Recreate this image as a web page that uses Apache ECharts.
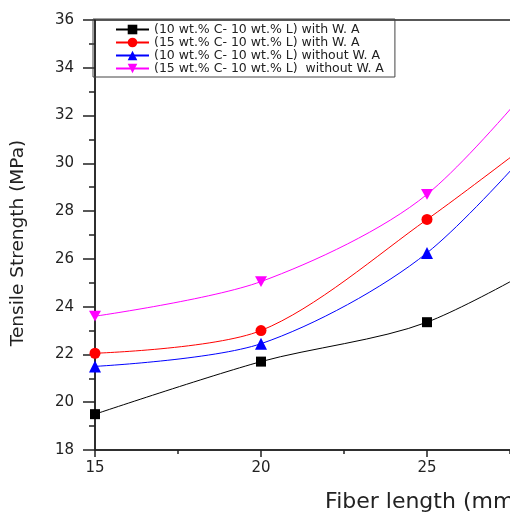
<!DOCTYPE html>
<html><head><meta charset="utf-8">
<script src="https://cdn.jsdelivr.net/npm/echarts@6/dist/echarts.min.js"></script>
<style>html,body{margin:0;padding:0;background:#fff}#c{width:510px;height:515px}</style>
</head><body><div id="c"></div>
<script>
const fiberLength = [15, 20, 25, 30];
const seriesNames = [
  "(10 wt.% C- 10 wt.% L) with W. A",
  "(15 wt.% C- 10 wt.% L) with W. A",
  "(10 wt.% C- 10 wt.% L) without W. A",
  "(15 wt.% C- 10 wt.% L)  without W. A"
];
const c10WithWA = [19.5, 21.7, 23.35, 27.0];
const c15WithWA = [22.05, 23.0, 27.65, 32.9];
const c10WithoutWA = [21.5, 22.45, 26.25, 33.6];
const c15WithoutWA = [23.6, 25.05, 28.7, 36.4];
const yTicks = [18, 36, 2];

const colors = ['#000000', '#ff0000', '#0000ff', '#ff00ff'];
const symbols = ['rect', 'circle', 'triangle', 'path://M0,0 L10,0 L5,9 Z'];
const sizes = [10, 11, 12, 12];
const values = [c10WithWA, c15WithWA, c10WithoutWA, c15WithoutWA];
const FONT = 'DejaVu Sans, Liberation Sans, sans-serif';

const chart = echarts.init(document.getElementById('c'));
chart.setOption({
  animation: false,
  backgroundColor: '#fff',
  textStyle: {fontFamily: FONT},
  grid: {left: 95, top: 20, width: 498, height: 430, outerBoundsMode: 'none', containLabel: false,
         show: true, borderColor: '#222', borderWidth: 1.5, backgroundColor: 'transparent'},
  legend: {
    orient: 'vertical', left: 93, top: 19,
    data: seriesNames,
    itemWidth: 33, itemHeight: 12, itemGap: 0,
    padding: [4, 11, 2, 22],
    borderColor: '#444', borderWidth: 1,
    textStyle: {fontSize: 12.5, color: '#222', fontFamily: FONT}
  },
  xAxis: {
    type: 'value', min: 15, max: 30, interval: 5,
    name: 'Fiber length (mm)', nameLocation: 'middle', nameGap: 41,
    nameTextStyle: {fontSize: 22, color: '#222', padding: [0, 0, 0, 160]},
    axisLine: {show: true, lineStyle: {color: '#222', width: 1.5}},
    axisTick: {show: true, inside: false, length: 7, lineStyle: {color: '#222', width: 1.5}},
    minorTick: {show: true, splitNumber: 2, length: 4, lineStyle: {color: '#222', width: 1.5}},
    axisLabel: {fontSize: 15, color: '#222', margin: 11},
    splitLine: {show: false}
  },
  yAxis: {
    type: 'value', min: yTicks[0], max: yTicks[1], interval: yTicks[2],
    name: 'Tensile Strength (MPa)', nameLocation: 'middle', nameGap: 67,
    nameTextStyle: {fontSize: 18.5, color: '#222', padding: [0, 16, 0, 0]},
    axisLine: {show: true, lineStyle: {color: '#222', width: 1.5}},
    axisTick: {show: true, inside: false, length: 12, lineStyle: {color: '#222', width: 1.5}},
    minorTick: {show: true, splitNumber: 2, length: 6, lineStyle: {color: '#222', width: 1.5}},
    axisLabel: {fontSize: 15, color: '#222', margin: 21},
    splitLine: {show: false}
  },
  series: seriesNames.map((n, i) => ({
    name: n, type: 'line', smooth: 0.3,
    data: fiberLength.map((x, j) => [x, values[i][j]]),
    symbol: symbols[i], symbolSize: sizes[i], symbolKeepAspect: true,
    itemStyle: {color: colors[i]},
    lineStyle: {color: colors[i], width: 1}
  }))
});
</script></body></html>
